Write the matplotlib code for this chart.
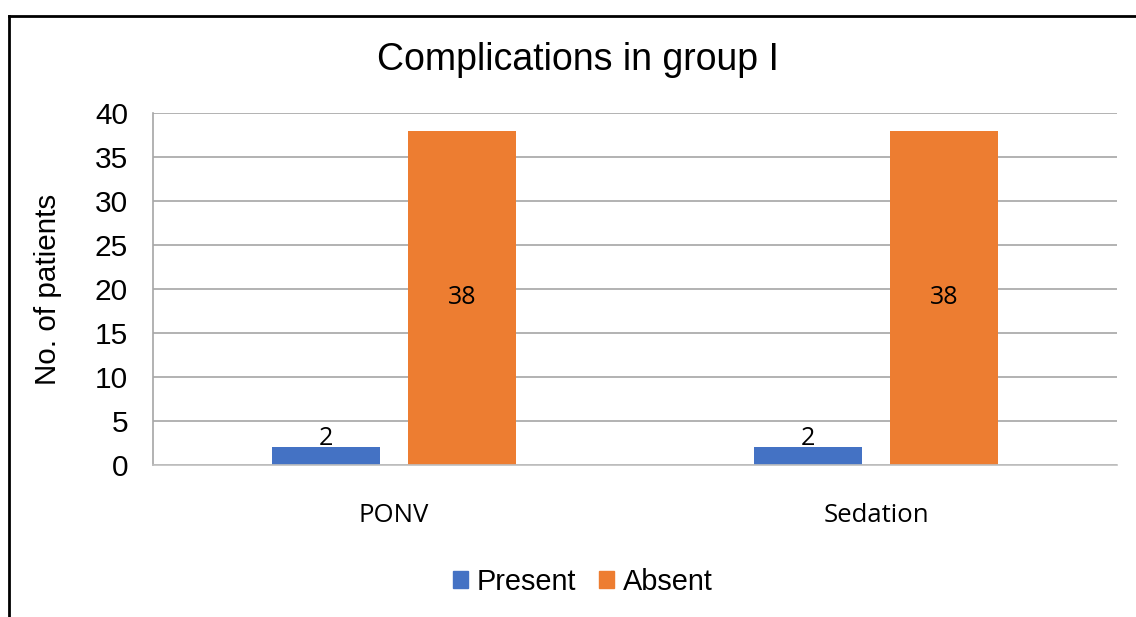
import matplotlib
matplotlib.use("Agg")
import matplotlib.pyplot as plt
from matplotlib.lines import Line2D
from matplotlib.patches import Patch
import numpy as np

categories = ["PONV", "Sedation"]
present = [2, 2]
absent = [38, 38]
yticks = [0, 5, 10, 15, 20, 25, 30, 35, 40]

W, H = 1136, 617
fig = plt.figure(figsize=(W / 100, H / 100), dpi=100)
ax = fig.add_axes([153 / W, 1 - 465 / H, (1117 - 153) / W, (465 - 113) / H])

x = np.arange(len(categories))
bw = 0.224
off = 0.142
blue = "#4472C4"
orange = "#ED7D31"
b1 = ax.bar(x - off, present, bw, color=blue, zorder=3)
b2 = ax.bar(x + off, absent, bw, color=orange, zorder=3)

ax.set_xlim(-0.5, 1.5)
ax.set_ylim(0, 40)
ax.set_yticks(yticks)
ax.set_yticklabels([str(v) for v in yticks], fontsize=21.5, family="Liberation Sans")
ax.set_xticks(x)
ax.set_xticklabels(categories, fontsize=18.5, family="Open Sans")
ax.tick_params(axis="y", length=0, pad=18)
ax.tick_params(axis="x", length=0, pad=27.5)

ax.yaxis.grid(True, color="#A6A6A6", linewidth=1.2, zorder=0)
ax.set_axisbelow(True)
for s in ["top", "right"]:
    ax.spines[s].set_visible(False)
ax.spines["left"].set_color("#A6A6A6")
ax.spines["left"].set_linewidth(1.2)
ax.spines["bottom"].set_color("#BFBFBF")
ax.spines["bottom"].set_linewidth(1.2)
ax.spines["bottom"].set_zorder(4)

for rect, v in zip(b1, present):
    ax.text(rect.get_x() + rect.get_width() / 2, v - 0.45, str(v), ha="center", va="bottom",
            fontsize=18, family="Open Sans", color="#000000", zorder=5)
for rect, v in zip(b2, absent):
    ax.text(rect.get_x() + rect.get_width() / 2, v / 2, str(v), ha="center", va="center",
            fontsize=18, family="Open Sans", color="#000000", zorder=5)

ax.set_ylabel("No. of patients", fontsize=21.3, family="Liberation Sans")
ax.yaxis.set_label_coords((62 - 153) / (1117 - 153), 0.5)

fig.text(578 / W, 1 - 60 / H, "Complications in group I", ha="center", va="center",
         fontsize=27, family="Liberation Sans")

handles = [Patch(color=blue, label="Present"), Patch(color=orange, label="Absent")]
fig.legend(handles=handles, loc="center", bbox_to_anchor=(583 / W, 1 - 582 / H), ncol=2,
           frameon=False, prop={"family": "Liberation Sans", "size": 20.8},
           handlelength=0.52, handleheight=0.52, handletextpad=0.3, columnspacing=0.8)

# outer frame (left and top edges visible)
lx = 8.5 / W
ty = 1 - 16.3 / H
fig.add_artist(Line2D([lx, lx], [0, ty], transform=fig.transFigure, color="black", linewidth=2))
fig.add_artist(Line2D([lx, 1], [ty, ty], transform=fig.transFigure, color="black", linewidth=2))

fig.savefig("out.png", dpi=100)
